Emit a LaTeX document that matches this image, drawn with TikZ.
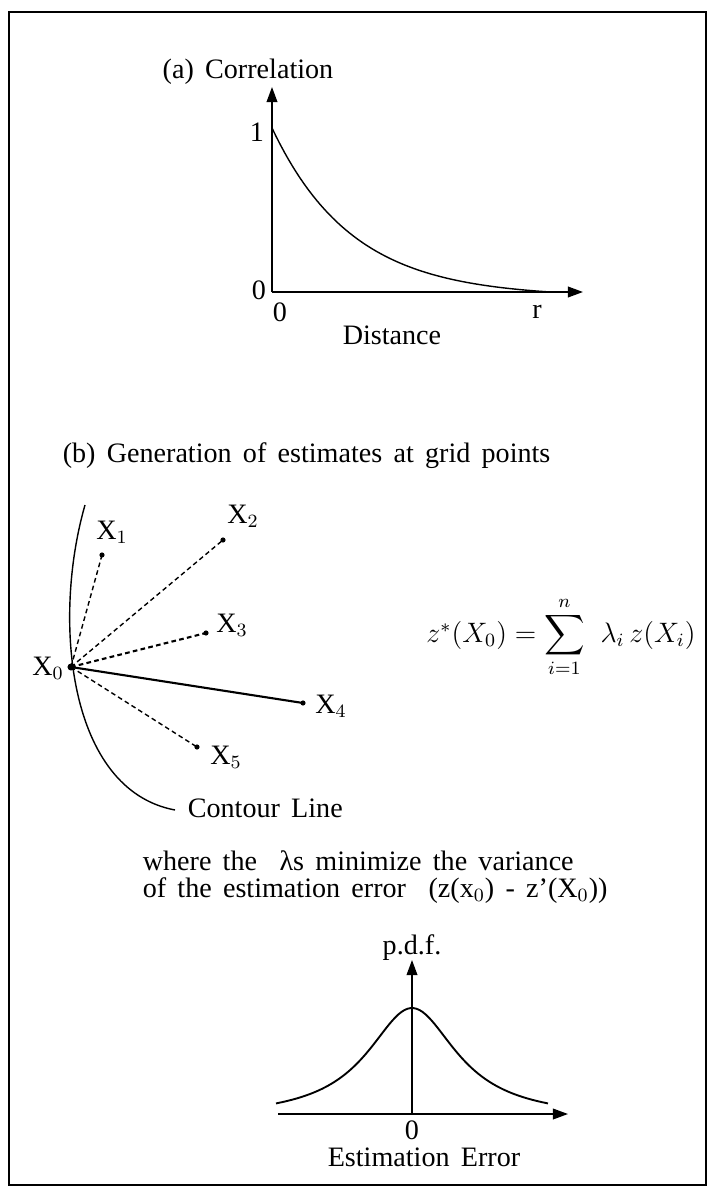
\documentclass[tikz,border=0pt]{standalone}
\usepackage{fontspec}
\setmainfont{Liberation Serif}
\usepackage{amsmath}
\usetikzlibrary{arrows.meta, positioning, calc}
\newcommand{\kgfont}{\fontsize{12pt}{13pt}\selectfont\spaceskip=0.4em plus 0.1em\relax}
\tikzset{
  kg text/.style={
    font=\kgfont,
    inner sep=1pt
  },
  kg axis/.style={
    -{Triangle[length=6.5pt, width=4.6pt]}, line width=0.7pt
  },
  kg curve/.style={line width=0.6pt},
  kg dot/.style={
    circle, fill=black, inner sep=0pt, minimum size=2.2pt
  },
  kg ray/.style={line width=0.6pt, dash pattern=on 2pt off 1.4pt},
  kg solid ray/.style={line width=0.9pt},
  kg frame/.style={line width=1.1pt}
}

\begin{document}
\begin{tikzpicture}[x=0.015cm, y=-0.015cm]
  \useasboundingbox (0,0) rectangle (711,1188);
  \draw[kg frame] (9,12) rectangle (706,1185);

  % (a) correlation against distance
  \coordinate (ao) at (272,292);
  \coordinate (ay) at (272,87);
  \coordinate (ax) at (583,292);
  \node (atitle) [kg text] at (248,72) {(a) Correlation};
  \draw[kg axis] (ao) -- (ay);
  \draw[kg axis] (ao) -- (ax);
  \node (aone) [kg text] at (257,132) {1};
  \node (azero) [kg text] at (259,290) {0};
  \node (azerox) [kg text] at (280,312) {0};
  \node (ar) [kg text] at (537,312) {r};
  \node (adist) [kg text] at (392,335) {Distance};
  \draw[kg curve] plot[domain=272:550, samples=70]
    (\x, {128+164*(1-exp(-(\x-272)/80))/(1-exp(-278/80))});

  % (b) estimates at grid points
  \node (btitle) [kg text, anchor=west] at (60,456)
    {(b) Generation of estimates at grid points};

  \node (x0) [kg dot, minimum size=3pt] at (71,667) {};
  \node (x1) [kg dot] at (102,555) {};
  \node (x2) [kg dot] at (223,540) {};
  \node (x3) [kg dot] at (206,633) {};
  \node (x4) [kg dot] at (303,703) {};
  \node (x5) [kg dot] at (197,747) {};

  \node (lx0) [kg text] at (48,668) {X$_0$};
  \node (lx1) [kg text] at (112,532) {X$_1$};
  \node (lx2) [kg text] at (243,516) {X$_2$};
  \node (lx3) [kg text] at (232,625) {X$_3$};
  \node (lx4) [kg text] at (331,706) {X$_4$};
  \node (lx5) [kg text] at (226,757) {X$_5$};

  \foreach \p in {x1,x2,x5}
    \draw[kg ray] (x0.center) -- (\p.center);
  \draw[kg ray, line width=0.9pt] (x0.center) -- (x3.center);
  \draw[kg solid ray] (x0.center) -- (x4.center);

  \node (cline) [kg text, anchor=west] at (185,808) {Contour Line};
  \draw[kg curve] (85,505) .. controls (52,620) and (68,790)
    .. ($(cline.west)+(-10,2)$);

  \node (eq) [kg text] at (561,637)
    {$z^{*}(X_0) = \displaystyle\sum_{i=1}^{n}\ \lambda_i\, z(X_i)$};

  \node (note) [kg text, align=left, anchor=west] at (140,877)
    {where the \ λs minimize the variance\\[-1.5pt]
     of the estimation error \ (z(x$_0$) - z'(X$_0$))};

  % error distribution
  \coordinate (bo) at (412,1114);
  \coordinate (bl) at (278,1114);
  \coordinate (bx) at (568,1114);
  \coordinate (by) at (412,960);
  \draw[kg axis] (bl) -- (bx);
  \draw[kg axis] (bo) -- (by);
  \node (pdf) [kg text] at (412,948) {p.d.f.};
  \draw[kg curve, line width=0.8pt] plot[domain=-136:136, samples=90]
    ({412+\x}, {1119-111/(1+(\x/55)^2)});
  \node (bzero) [kg text] at (412,1130) {0};
  \node (berr) [kg text] at (424,1157) {Estimation Error};
\end{tikzpicture}
\end{document}
